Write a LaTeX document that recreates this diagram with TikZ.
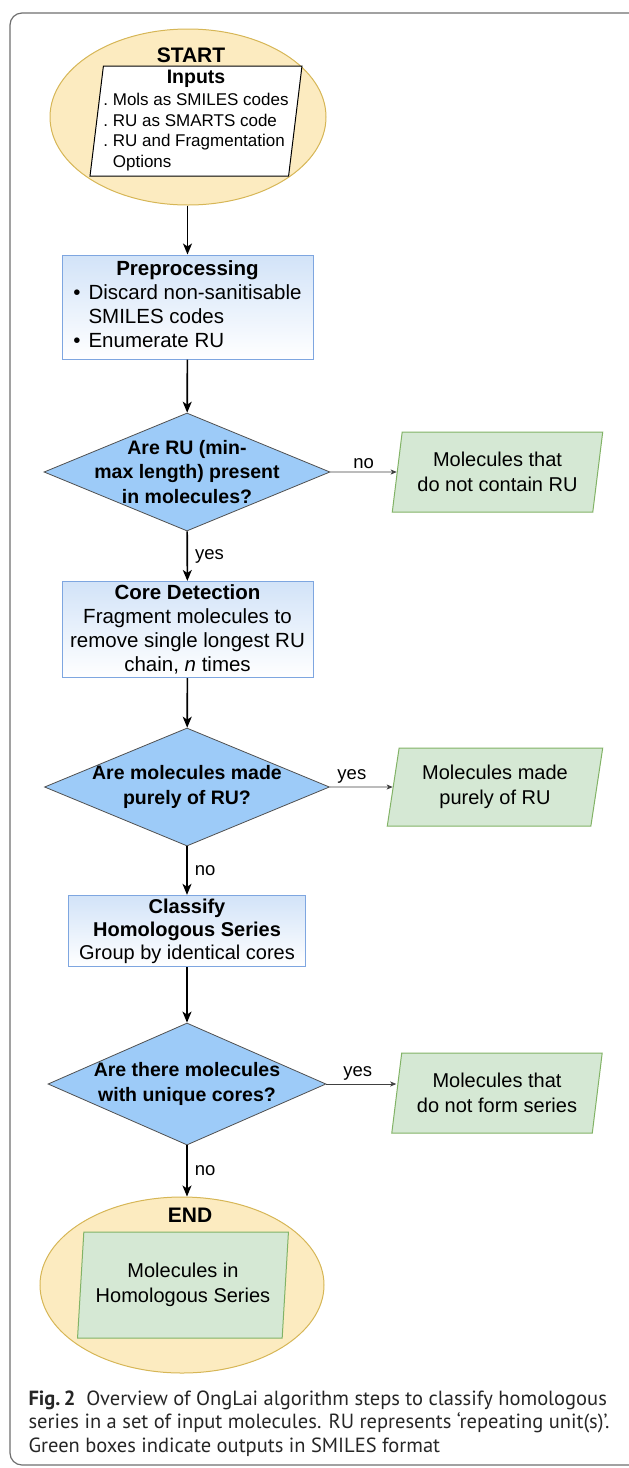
\documentclass[tikz,border=0pt]{standalone}
\usepackage{fontspec}
\setmainfont{Liberation Sans}
\newfontfamily\capfont{PT Sans}
\usetikzlibrary{shapes.geometric,arrows.meta,positioning}

\newcommand{\fsz}[2]{\fontsize{#1}{#2}\selectfont}

\definecolor{termfill}{HTML}{FCEBC0}
\definecolor{termdraw}{HTML}{D6B656}
\definecolor{procfill}{HTML}{D2E3F8}
\definecolor{procdraw}{HTML}{7EA6E0}
\definecolor{decfill}{HTML}{9DCBF8}
\definecolor{decdraw}{HTML}{505050}
\definecolor{outfill}{HTML}{D5E8D4}
\definecolor{outdraw}{HTML}{82B366}
\definecolor{framegray}{HTML}{6E6E6E}

\begin{document}
\begin{tikzpicture}[
	x=1pt, y=-1pt,
	terminal/.style={
		ellipse,
		draw=termdraw,
		fill=termfill,
		line width=1pt,
		minimum width=276pt,
		minimum height=176pt
	},
	inputbox/.style={
		trapezium,
		trapezium left angle=82.7,
		trapezium right angle=97.3,
		trapezium stretches=true,
		draw=black,
		fill=white,
		line width=1pt,
		inner sep=0pt,
		minimum width=208pt,
		minimum height=110pt,
		font=\fsz{17}{20.5}
	},
	process/.style={
		rectangle,
		draw=procdraw,
		top color=procfill,
		bottom color=white,
		line width=1pt,
		minimum width=251pt,
		align=center,
		font=\fsz{20.5}{24}
	},
	decision/.style={
		diamond,
		draw=decdraw,
		fill=decfill,
		line width=0.8pt,
		minimum width=286pt,
		minimum height=118pt
	},
	dectext/.style={align=center, font=\bfseries\fsz{19.5}{24.5}},
	output/.style={
		trapezium,
		trapezium left angle=79.4,
		trapezium right angle=100.6,
		trapezium stretches=true,
		draw=outdraw,
		fill=outfill,
		line width=1pt,
		minimum width=211pt,
		minimum height=80pt,
		align=center,
		font=\fsz{20}{25}
	},
	headtext/.style={font=\bfseries\fsz{21}{24}},
	arrow/.style={-{Stealth[length=11pt,width=9pt,inset=3pt]}, line width=1.6pt},
	sidearrow/.style={-{Stealth[length=6pt,width=5pt,inset=1.5pt]}, line width=0.8pt, draw=black!75},
	edgelbl/.style={font=\fsz{18.5}{20}, inner sep=3pt},
	caption/.style={align=left, font=\capfont\fsz{20.5}{23.5}, text=black!85}
]
\useasboundingbox (0,0) rectangle (629,1468);

% Rahmen
\draw[framegray, line width=1.2pt, rounded corners=12pt] (10,13) rectangle (660,1465);

% START
\node[terminal] (start) at (188,117) {};
\node[headtext] (starttxt) at (191,55) {START};
\node[inputbox] (inputs) at (196,121) {%
	\begin{tabular}{@{}l@{}}
		\multicolumn{1}{c}{\bfseries\fsz{19.5}{22}Inputs}\\[2pt]
		.\ Mols as SMILES codes\\
		.\ RU as SMARTS code\\
		.\ RU and Fragmentation\\
		\phantom{.\ }Options
	\end{tabular}};

% Preprocessing
\node[process, minimum height=104pt] (pre) at (187.5,307) {%
	\begin{tabular}{@{}l@{\hspace{8pt}}l@{}}
		\multicolumn{2}{c}{\textbf{Preprocessing}}\\
		\textbullet & Discard non-sanitisable\\
		& SMILES codes\\
		\textbullet & Enumerate RU
	\end{tabular}};

% Frage 1
\node[decision] (q1) at (187,472) {};
\node[dectext] (q1txt) at (q1) {Are RU (min-\\max length) present\\in molecules?};
\node[output] (out1) at (497.5,472) {Molecules that\\do not contain RU};

% Core Detection
\node[process, minimum height=95pt] (core) at (187.5,629.5) {%
	\textbf{Core Detection}\\Fragment molecules to\\remove single longest RU\\chain, \textit{n} times};

% Frage 2
\node[decision, minimum width=285pt] (q2) at (187,787) {};
\node[dectext] (q2txt) at (q2) {Are molecules made\\purely of RU?};
\node[output, minimum height=78pt, minimum width=216pt] (out2) at (495,787) {Molecules made\\purely of RU};

% Classify
\node[process, minimum width=237pt, minimum height=68pt, font=\fsz{20}{23}] (classify) at (187,931) {%
	\textbf{Classify}\\\textbf{Homologous Series}\\Group by identical cores};

% Frage 3
\node[decision, minimum width=278pt, minimum height=122pt] (q3) at (187,1084) {};
\node[dectext] (q3txt) at (q3) {Are there molecules\\with unique cores?};
\node[output] (out3) at (497,1093) {Molecules that\\do not form series};

% END
\node[terminal, minimum width=284pt] (finish) at (182,1285) {};
\node[headtext] (endtxt) at (190,1215) {END};
\node[output, trapezium left angle=83.5, trapezium right angle=96.5, minimum height=106pt] (result) at (183,1285) {Molecules in\\Homologous Series};

% Pfeile
\draw[arrow] (pre.north |- start.south) -- (pre.north);
\draw[arrow] (pre) -- (q1);
\draw[arrow] (q1) -- (core) node[edgelbl, midway, right, xshift=4pt] (yes1) {yes};
\draw[arrow] (core) -- (q2);
\draw[arrow] (q2) -- (classify) node[edgelbl, midway, right, xshift=4pt] (no2) {no};
\draw[arrow] (classify) -- (q3);
\draw[arrow] (q3.south) -- (q3.south |- finish.north) node[edgelbl, midway, right, xshift=4pt] (no3) {no};

\draw[sidearrow] (q1.east) -- (out1) node[edgelbl, midway, above] (no1) {no};
\draw[sidearrow] (q2.east) -- (out2) node[edgelbl, pos=0.35, above] (yes2) {yes};
\draw[sidearrow] (q3.east) -- (q3.east -| out3.west) node[edgelbl, pos=0.45, above] (yes3) {yes};

% Bildunterschrift
\node[caption, anchor=north west] (cap) at (25,1387) {%
	\textbf{Fig.\,2}\ \ Overview of OngLai algorithm steps to classify homologous\\
	series in a set of input molecules. RU represents ‘repeating unit(s)’.\\
	Green boxes indicate outputs in SMILES format};

\end{tikzpicture}
\end{document}
